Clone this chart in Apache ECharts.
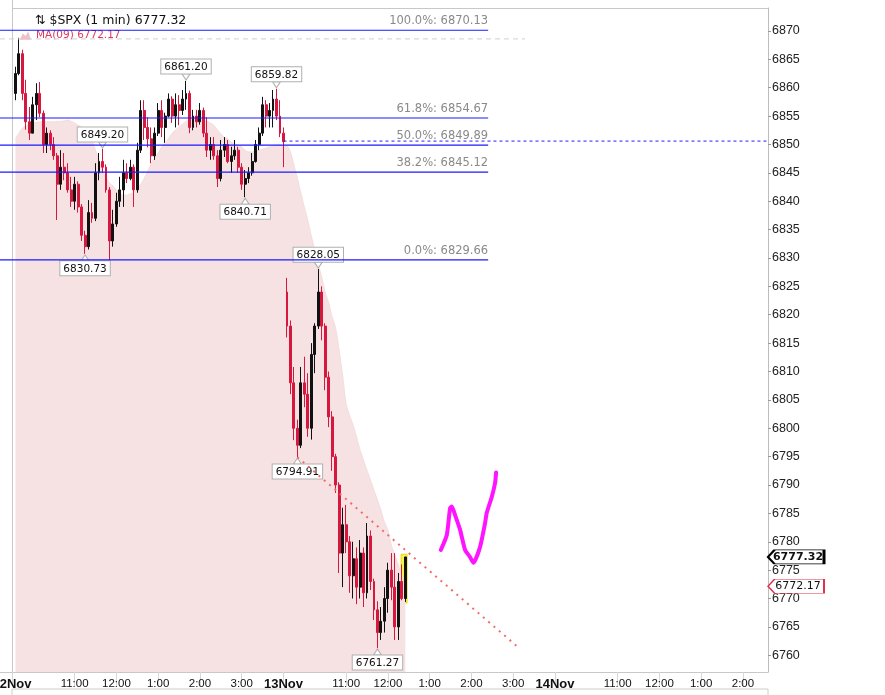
<!DOCTYPE html>
<html>
<head>
<meta charset="utf-8">
<script src="https://cdn.jsdelivr.net/npm/echarts@6/dist/echarts.min.js"></script>
<style>
  html, body { margin: 0; padding: 0; background: #fff; }
  #chart { width: 885px; height: 695px; }
</style>
</head>
<body>
<div id="chart"></div>
<script>
// 5-minute bars, 12 Nov (full session) and 13 Nov (to 12:25)
var day1Open  = [6859,6862.5,6866,6859,6854,6852,6857,6859,6855.5,6850,6852,6850,6848,6843,6846,6845,6842,6840,6843,6839,6834,6832,6838,6837,6845,6847,6846,6842,6833,6836,6840,6842,6845,6844,6846,6842,6849,6856,6853,6851,6848,6852,6856,6853,6855,6858,6855,6857,6856,6858,6859,6853,6855,6854,6856,6852,6849,6850,6848,6844,6849,6850,6847,6848,6849,6846,6843,6844,6845,6847,6850,6852,6857,6855,6856,6858,6855,6852];
var day1High  = [6863.7,6868.8,6866.7,6861.4,6856.6,6858.4,6860.8,6861,6856,6853,6852.5,6851.3,6848.5,6849,6848.5,6846.7,6844.3,6844.3,6843.5,6839.5,6834.8,6840.2,6839.7,6846.7,6848.5,6849.2,6846.5,6842.5,6838.5,6841.5,6844.3,6847.3,6846.7,6847.3,6846.5,6850.3,6857.8,6857.8,6854.8,6853,6853,6857.3,6857.8,6855.6,6859,6858.5,6859,6858.7,6859.6,6861.2,6859.5,6856.1,6856.1,6857.3,6856.5,6854.8,6851.3,6851.3,6849,6850.8,6851.3,6850.8,6849.6,6850.8,6849.6,6846.7,6845.5,6846,6848.5,6850.8,6853,6858.4,6857.8,6857.3,6859.6,6859.82,6857.8,6853];
var day1Low   = [6857.8,6862.2,6857.8,6852.6,6850.8,6852,6854.3,6854.8,6848.5,6848.5,6849,6847.3,6836.7,6842,6843.7,6841.5,6839,6838.5,6838,6833,6830.73,6831.5,6836.2,6836.5,6843.7,6845,6841.5,6829.66,6832,6835.5,6839,6839,6843.2,6843.7,6839,6841.5,6848.5,6850.8,6849.5,6846.7,6847.3,6851.5,6851.3,6850.3,6854.8,6853.8,6853,6853.4,6855.2,6856.1,6852,6852.5,6853,6853.5,6851.3,6847.8,6847.3,6847.3,6842.5,6843.5,6847.8,6846.7,6845,6847.3,6845,6842,6840.71,6843.2,6844.5,6846.8,6849,6851.5,6853,6853,6853,6854.3,6851.3,6846];
var day1Close = [6862.5,6866,6859,6854,6852,6857,6859,6855.5,6850,6852,6850,6848,6843,6846,6845,6842,6840,6843,6839,6834,6832,6838,6837,6845,6847,6846,6842,6833,6836,6840,6842,6845,6844,6846,6842,6849,6856,6853,6851,6848,6852,6856,6853,6855,6858,6855,6857,6856,6858,6859,6853,6855,6854,6856,6852,6849,6850,6848,6844,6849,6850,6847,6848,6849,6846,6843,6844,6845,6847,6850,6852,6857,6855,6856,6858,6855,6852,6850.5];

var day2Open  = [6824,6818,6808,6800,6797,6808,6806,6800,6813,6818,6824,6818,6809,6802,6795,6790,6778,6783,6780,6774,6777,6772,6778,6771,6781,6773,6768,6764,6766,6770,6775,6772,6765,6773,6770];
var day2High  = [6826.5,6819,6810.8,6801.5,6810.8,6812.6,6809.7,6815,6818.5,6828.05,6825,6818.5,6810,6803,6795.5,6790.5,6786,6786.5,6781,6780,6779,6780.3,6779,6783.3,6782,6773.5,6769.5,6768.5,6772,6776.3,6778,6778,6774.5,6776,6777.32];
var day2Low   = [6816,6806,6797.9,6794.91,6796.5,6803.7,6798.5,6798,6809.7,6817.5,6815.5,6806.7,6800.2,6792.5,6788.6,6774.5,6772,6778,6771,6770,6769,6770,6768.5,6770,6771.5,6766.2,6761.27,6762.7,6764,6767.5,6769.7,6762.7,6762.7,6769.7,6769.4];
var day2Close = [6818,6808,6800,6797,6808,6806,6800,6813,6818,6824,6818,6809,6802,6795,6790,6778,6783,6780,6774,6777,6772,6778,6771,6781,6773,6768,6764,6766,6770,6775,6772,6765,6773,6770,6777.32];

// MA(09) overlay, drawn as a shaded area
var day1Ma = [6851.1,6852.0,6852.9,6853.3,6853.6,6853.8,6853.9,6854.0,6854.0,6854.0,6854.0,6854.0,6854.1,6854.1,6854.2,6854.3,6854.1,6853.8,6853.4,6853.1,6852.4,6851.7,6850.8,6849.0,6847.3,6845.3,6844.3,6843.2,6842.7,6842.0,6841.5,6841.1,6841.1,6841.3,6841.6,6842.3,6843.0,6844.1,6845.3,6846.7,6847.6,6848.5,6849.6,6850.3,6851.1,6852.0,6852.6,6853.1,6853.6,6854.1,6854.5,6854.7,6854.7,6854.5,6854.3,6854.1,6853.8,6853.4,6852.6,6851.9,6851.3,6851.0,6850.4,6850.1,6849.9,6849.6,6849.0,6848.7,6848.7,6848.9,6849.0,6849.2,6849.4,6849.6,6849.7,6849.9,6849.9,6849.7];
var day2Ma = [6849.7,6848.7,6846.4,6844.1,6841.5,6839.0,6836.7,6833.9,6831.4,6828.8,6826.7,6824.0,6822.1,6819.6,6817.7,6813.8,6809.4,6804.4,6802.3,6800.6,6798.5,6796.2,6794.4,6792.6,6790.9,6789.1,6787.4,6785.6,6783.5,6782.1,6779.4,6777.7,6775.9,6774.1,6772.17];

// fibonacci retracement levels
var fibNames  = ['100.0%', '61.8%', '50.0%', '38.2%', '0.0%'];
var fibLevels = [6870.13, 6854.67, 6849.89, 6845.12, 6829.66];
var sessionHigh = 6868.6;
var prevClose = 6850.6;

// high / low callouts: [session, bar index, 'high' | 'low']
var callouts = [[1,49,'high'],[1,75,'high'],[1,25,'high'],[1,66,'low'],[1,20,'low'],[2,9,'high'],[2,3,'low'],[2,26,'low']];

// drawn objects (trading minutes since 12 Nov 9:30, price)
var trendLine = [[410, 6794.91], [730, 6761.1]];
var penStroke = [[616,6778.55],[624.6,6781.2],[629.3,6785.9],[631.8,6786.2],[636.5,6784.7],[643.7,6782.1],[650.9,6778.55],[658,6777.3],[662.8,6776.3],[672.4,6779.1],[679.6,6783.3],[682,6785.1],[689.2,6787.9],[694,6790.4],[695.4,6792.2]];
var lastBarBox = [[559, 6777.8], [567.5, 6769.2]];

var lastPrice = 6777.32;
var lastMa = 6772.17;

// axis ticks (trading minutes) and labels
var xTickValues = [0, 90, 150, 210, 270, 330, 390, 480, 540, 600, 660, 720, 780, 870, 930, 990, 1050];
var xTickLabels = ['12Nov','11:00','12:00','1:00','2:00','3:00','13Nov','11:00','12:00','1:00','2:00','3:00','14Nov','11:00','12:00','1:00','2:00'];
var yTickValues = [6760,6765,6770,6775,6780,6785,6790,6795,6800,6805,6810,6815,6820,6825,6830,6835,6840,6845,6850,6855,6860,6865,6870];

var sessionStart = [0, 390];
var candles = [];
var maLine = [];
function addSession(s, o, h, l, c, ma) {
    for (var i = 0; i < o.length; i++) {
        var t = sessionStart[s] + 5 * (i + 1);
        candles.push([t, o[i], c[i], l[i], h[i]]);
        maLine.push([t, ma[i]]);
    }
}
addSession(0, day1Open, day1High, day1Low, day1Close, day1Ma);
addSession(1, day2Open, day2High, day2Low, day2Close, day2Ma);

var xMin = -17.2, xMax = 1086, fibEnd = 684, highLineEnd = 737;
var yMin = 6757.05, yMax = 6874.05;

function hLine(name, z, from, to, v, color, type, width) {
    return {
        name: name, type: 'line', z: z, symbol: 'none', silent: true,
        data: [[from, v], [to, v]],
        lineStyle: {color: color, type: type, width: width}
    };
}

var levelSeries = [
    hLine('sessionHigh', 4, xMin, highLineEnd, sessionHigh, '#cfcfcf', [5, 4], 1),
    hLine('prevClose', 4, 390, xMax, prevClose, '#2020ff', [3, 3], 1)
];
fibLevels.forEach(function (v, i) {
    levelSeries.push(hLine('fib' + i, 5, xMin, fibEnd, v, '#1a1aff', 'solid', 1.2));
});

// level captions sit above the right end of each fib line
var fibCaptions = fibLevels.map(function (v, i) {
    return {coord: [fibEnd, v], value: fibNames[i] + ': ' + v.toFixed(2)};
});

var calloutPoints = callouts.map(function (c) {
    var base = c[0] === 1 ? 0 : day1Open.length;
    var bar = candles[base + c[1]];
    var up = c[2] === 'high';
    var v = up ? bar[4] : bar[3];
    return {
        coord: [bar[0], v],
        value: v,
        symbol: up ? 'path://M0,0L8,0L4,6Z' : 'path://M4,0L8,6L0,6Z',
        symbolSize: [8, 6],
        symbolOffset: [0, up ? -4 : 4],
        label: {position: up ? 'top' : 'bottom', distance: 0}
    };
});

var tagShape = 'path://M0,7L7,0L60,0L60,14L7,14Z';

var chart = echarts.init(document.getElementById('chart'));
var option = {
    animation: false,
    backgroundColor: '#fff',
    title: {
        text: '\u21C5 $SPX (1 min) ' + lastPrice.toFixed(2),
        left: 30, top: 9,
        textStyle: {fontFamily: 'DejaVu Sans', fontSize: 12.5, fontWeight: 'normal', color: '#111'}
    },
    legend: {
        left: 15, top: 25,
        itemWidth: 11, itemHeight: 9, itemGap: 2,
        data: [{name: 'MA(09)', icon: 'path://M0,10L3,3L6,6L9,1L12,10Z'}],
        formatter: function (n) { return n + ' ' + lastMa.toFixed(2); },
        textStyle: {fontFamily: 'DejaVu Sans', fontSize: 10.5, color: '#e0385a'}
    },
    grid: {left: 0, right: 117, top: 8, bottom: 23, show: false, outerBoundsMode: 'none'},
    xAxis: {
        type: 'value', min: xMin, max: xMax,
        axisLine: {show: true, onZero: false, lineStyle: {color: '#c8c8c8'}},
        splitLine: {show: false},
        axisTick: {show: true, customValues: xTickValues, length: 14, lineStyle: {color: '#d8d8d8'}},
        axisLabel: {
            customValues: xTickValues, margin: 6,
            fontFamily: 'Liberation Sans', fontSize: 11.5, color: '#111',
            formatter: function (v) {
                var s = xTickLabels[xTickValues.indexOf(v)] || '';
                return /Nov/.test(s) ? '{d|' + s + '}' : s;
            },
            rich: {d: {fontFamily: 'Liberation Sans', fontSize: 13, fontWeight: 'bold', color: '#111'}}
        }
    },
    yAxis: {
        type: 'value', position: 'right', min: yMin, max: yMax,
        axisLine: {show: true, onZero: false, lineStyle: {color: '#bdbdbd'}},
        splitLine: {show: false},
        axisTick: {show: true, customValues: yTickValues, length: 3, lineStyle: {color: '#999'}},
        axisLabel: {
            customValues: yTickValues, margin: 4, fontFamily: 'Liberation Sans', fontSize: 12.5, color: '#222',
            formatter: function (v) { return String(v); }
        }
    },
    graphic: [
        {type: 'line', shape: {x1: 12, y1: 8.5, x2: 768, y2: 8.5}, style: {stroke: '#c8c8c8'}},
        {type: 'line', shape: {x1: 12.5, y1: 0, x2: 12.5, y2: 672}, style: {stroke: '#c8c8c8'}},
        {type: 'rect', shape: {x: 12, y: 689, width: 756, height: 30}, style: {fill: 'none', stroke: '#cccccc'}}
    ],
    series: [
        {
            name: 'MA(09)', type: 'line', data: maLine, smooth: 0.3, symbol: 'none', z: 1,
            itemStyle: {color: '#f0c0c8'},
            lineStyle: {width: 0.6, color: '#f1d2d4'},
            areaStyle: {color: '#f6e2e2', opacity: 1, origin: 'start'}
        },
        {
            name: 'highlight', type: 'line', data: [], z: 2,
            markArea: {
                silent: true,
                itemStyle: {color: '#f7f25a', borderColor: '#e6d800', borderWidth: 1},
                data: [[{coord: lastBarBox[0]}, {coord: lastBarBox[1]}]]
            }
        },
        {
            name: '$SPX', type: 'candlestick', data: candles, z: 3,
            encode: {x: 0, y: [1, 2, 3, 4]},
            barWidth: 2.4,
            itemStyle: {color: '#111', color0: '#d8173f', borderColor: '#111', borderColor0: '#d8173f', borderWidth: 1}
        }
    ].concat(levelSeries).concat([
        {
            name: 'fibCaptions', type: 'line', data: [], z: 6,
            markPoint: {
                silent: true, symbol: 'circle', symbolSize: 0.01,
                label: {
                    show: true, position: 'left', align: 'right', verticalAlign: 'bottom',
                    offset: [0, -3], distance: 0,
                    fontFamily: 'DejaVu Sans', fontSize: 11.5, color: '#8a8a8a',
                    formatter: function (p) { return p.value; }
                },
                data: fibCaptions
            }
        },
        {
            name: 'trend', type: 'line', data: trendLine, z: 5, symbol: 'none',
            lineStyle: {color: '#f26a6a', width: 2, type: [2, 5]}
        },
        {
            name: 'pen', type: 'line', data: penStroke, z: 6, symbol: 'none', smooth: 0.2,
            lineStyle: {color: '#ff14ff', width: 4, cap: 'round', join: 'round'}
        },
        {
            name: 'callouts', type: 'line', data: [], z: 7,
            markPoint: {
                silent: true,
                itemStyle: {color: '#fff', borderColor: '#b0b0b0', borderWidth: 1},
                label: {
                    show: true, formatter: function (p) { return p.value.toFixed(2); },
                    backgroundColor: '#fff', borderColor: '#b0b0b0', borderWidth: 1,
                    padding: [2, 3, 1, 3], color: '#111', fontFamily: 'DejaVu Sans', fontSize: 10.5
                },
                data: calloutPoints
            }
        },
        {
            name: 'tags', type: 'line', data: [], z: 8,
            markPoint: {
                silent: true,
                symbol: tagShape, symbolSize: [56, 14], symbolOffset: [28, 0], symbolKeepAspect: false,
                data: [
                    {coord: [xMax, lastPrice], value: lastPrice,
                     itemStyle: {color: '#fff', borderColor: '#000', borderWidth: 1.5},
                     label: {fontWeight: 'bold', fontSize: 11}},
                    {coord: [xMax, lastMa], value: lastMa,
                     itemStyle: {color: '#fff', borderColor: '#e0304e', borderWidth: 1},
                     label: {fontSize: 11}}
                ],
                label: {
                    show: true, position: 'inside', offset: [2, 0], color: '#111', fontFamily: 'DejaVu Sans',
                    formatter: function (p) { return p.value.toFixed(2); }
                }
            }
        }
    ])
};
chart.setOption(option);
</script>
</body>
</html>
